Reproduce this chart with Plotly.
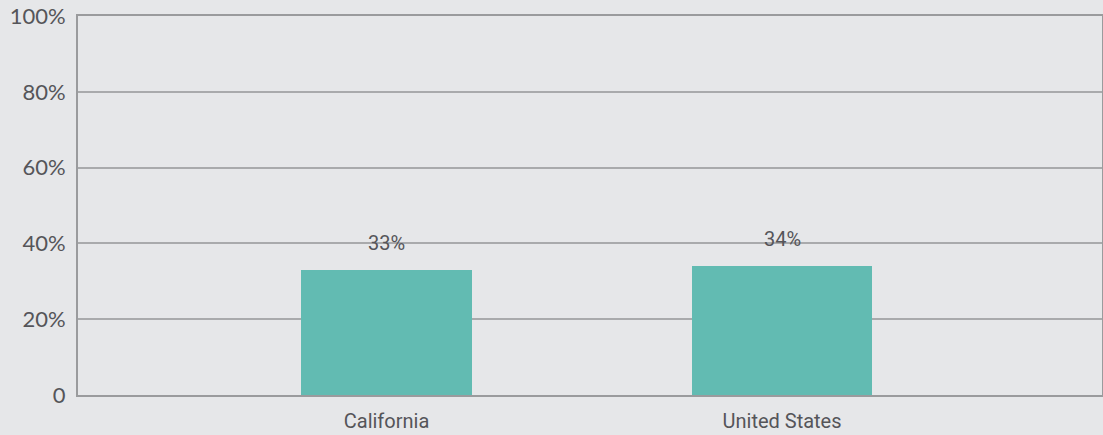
import plotly.graph_objects as go

categories = ["California", "United States"]
values = [33, 34]
value_labels = ["33%", "34%"]
y_tickvals = [0, 20, 40, 60, 80, 100]
y_ticktext = ["0", "20%", "40%", "60%", "80%", "100%"]

BG = "#e6e7e9"
BAR = "#62bbb2"
TXT = "#555559"
AX = "#9a9b9d"
GRID = "#a9aaac"
LABEL_FONT = "Roboto, sans-serif"
BAR_WIDTHS = [0.432, 0.455]

fig = go.Figure()
fig.add_trace(go.Bar(
    x=[0, 1], y=values, width=BAR_WIDTHS,
    marker=dict(color=BAR, line=dict(width=0)),
    hoverinfo="skip",
))

for i, (v, t) in enumerate(zip(values, value_labels)):
    fig.add_annotation(x=i, y=v, text=t, showarrow=False, yshift=27,
                       font=dict(family=LABEL_FONT, size=20, color=TXT))

fig.update_layout(
    width=1103, height=435,
    margin=dict(l=78, r=1, t=16, b=40, autoexpand=False),
    paper_bgcolor=BG, plot_bgcolor=BG,
    showlegend=False,
    bargap=0,
)
fig.update_xaxes(
    range=[-0.78, 1.809],
    tickvals=[0, 1], ticktext=categories,
    tickfont=dict(family=LABEL_FONT, size=20, color=TXT),
    showgrid=False, zeroline=False,
    showline=True, linecolor=AX, linewidth=2, mirror=True,
    ticks="", ticklabelstandoff=7, automargin=False,
)
fig.update_yaxes(
    range=[0, 100],
    tickvals=y_tickvals, ticktext=y_ticktext,
    tickfont=dict(family="Lato, sans-serif", size=22, color=TXT),
    showgrid=True, gridcolor=GRID, gridwidth=1.5,
    zeroline=False,
    showline=True, linecolor=AX, linewidth=2, mirror=True,
    ticks="", ticklabelstandoff=6, automargin=False,
)

fig.write_html("out.html", config={"displayModeBar": False},
               post_script="document.body.style.margin='0';document.body.style.overflow='hidden';")
